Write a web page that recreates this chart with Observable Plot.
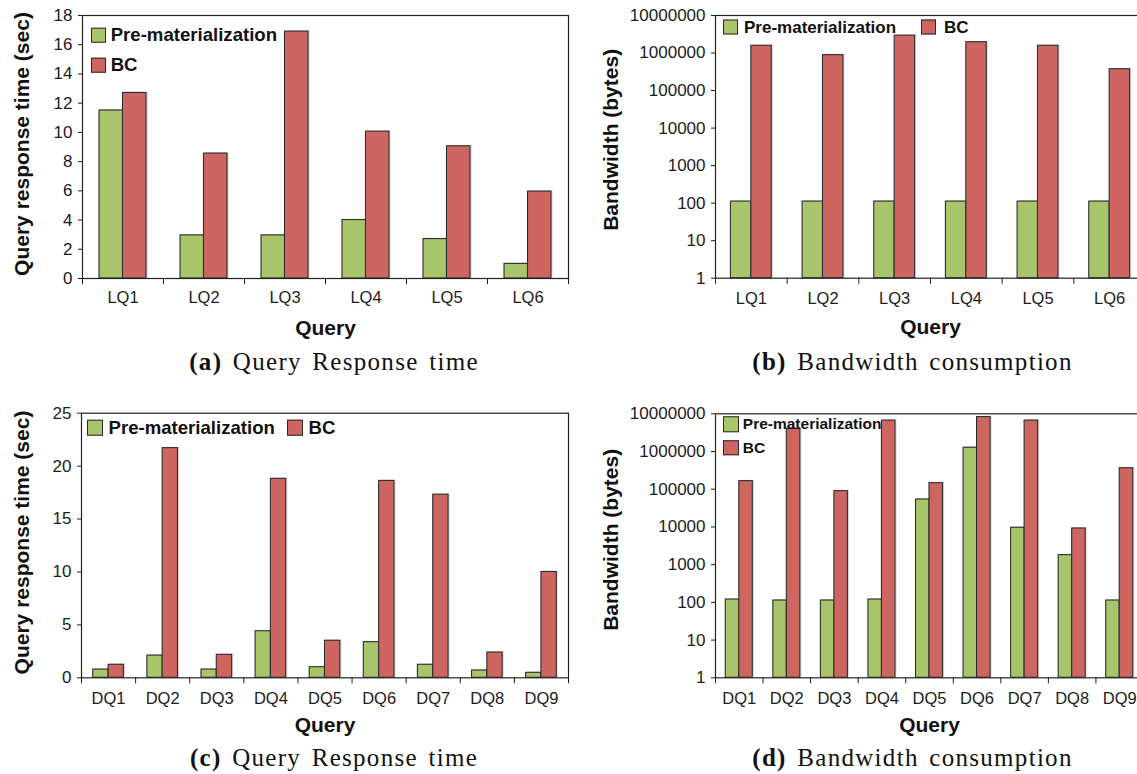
<!DOCTYPE html>
<html>
<head>
<meta charset="utf-8">
<script src="https://cdn.jsdelivr.net/npm/d3@7"></script>
<script src="https://cdn.jsdelivr.net/npm/@observablehq/plot@0.6"></script>
<style>
  html, body { margin: 0; padding: 0; background: #fff; overflow: hidden; }
  #fig { position: relative; width: 1137px; height: 774px; overflow: hidden; background: #fff;
         font-family: "Liberation Sans", Arial, Helvetica, sans-serif; }
  .panel { position: absolute; }
  .legend-item { position: absolute; display: flex; align-items: center; font-weight: bold;
                 color: #111; white-space: nowrap; line-height: 1; transform: translateY(-50%); }
  .swatch { box-sizing: border-box; border: 1.5px solid #2a2a2a; }
  .caption { position: absolute; font-family: "Liberation Serif", "Times New Roman", serif;
             font-size: 25px; line-height: 1; color: #111; transform: translateX(-50%);
             white-space: nowrap; letter-spacing: 1.3px; word-spacing: 3px; }
</style>
</head>
<body>
<div id="fig"></div>
<script>
// Series shown in every panel
const series = ["Pre-materialization", "BC"];
const seriesColors = ["#a9c56b", "#cd6561"];

// Local queries
const lqQueries = ["LQ1", "LQ2", "LQ3", "LQ4", "LQ5", "LQ6"];
const lqTimePre = [11.5, 2.95, 2.95, 4.0, 2.7, 1.0];
const lqTimeBC = [12.7, 8.55, 16.9, 10.05, 9.05, 5.95];
const lqBwPre = [110, 110, 110, 110, 110, 110];
const lqBwBC = [1560000, 880000, 2900000, 1940000, 1560000, 370000];

// Distributed queries
const dqQueries = ["DQ1", "DQ2", "DQ3", "DQ4", "DQ5", "DQ6", "DQ7", "DQ8", "DQ9"];
const dqTimePre = [0.78, 2.1, 0.78, 4.4, 1.0, 3.37, 1.23, 0.69, 0.47];
const dqTimeBC = [1.23, 21.7, 2.17, 18.8, 3.5, 18.6, 17.3, 2.39, 10.0];
const dqBwPre = [119, 112, 112, 119, 53500, 1260000, 9500, 1790, 112];
const dqBwBC = [164000, 4000000, 89000, 6600000, 145000, 8200000, 6600000, 9100, 360000];

// Axis ticks
const timeTicksLQ = [0, 2, 4, 6, 8, 10, 12, 14, 16, 18];
const timeTicksDQ = [0, 5, 10, 15, 20, 25];
const bwTicks = [1, 10, 100, 1000, 10000, 100000, 1000000, 10000000];

const timeLabel = "Query response time (sec)";
const bwLabel = "Bandwidth (bytes)";
const xLabel = "Query";

const fig = document.getElementById("fig");

function groupedBars(cfg) {
  const n = cfg.queries.length;
  const rows = [];
  cfg.queries.forEach((q, i) => {
    rows.push({i, side: -1, series: series[0], value: cfg.pre[i]});
    rows.push({i, side: 1, series: series[1], value: cfg.bc[i]});
  });
  const base = cfg.log ? 1 : 0;
  const w = cfg.barFrac;
  const barX1 = d => d.i + 0.5 + (d.side < 0 ? -w : 0);
  const barX2 = d => d.i + 0.5 + (d.side < 0 ? 0 : w);
  return Plot.plot({
    width: cfg.width,
    height: cfg.height,
    marginTop: cfg.marginTop,
    marginRight: 2,
    marginBottom: cfg.marginBottom,
    marginLeft: cfg.marginLeft,
    style: {fontFamily: '"Liberation Sans", Arial, sans-serif', fontSize: "17px", color: "#1c1c1c",
            background: "transparent", overflow: "visible"},
    x: {domain: [0, n]},
    y: cfg.log ? {type: "log", domain: [1, 10000000]} : {type: "linear", domain: cfg.yDomain},
    color: {domain: series, range: seriesColors},
    marks: [
      // soft drop shadow behind each bar
      Plot.rect(rows, {x1: barX1, x2: barX2, y1: base, y2: "value", fill: "#000", fillOpacity: 0.16,
                       dx: 1.6, dy: -0.8}),
      Plot.rect(rows, {
        x1: barX1,
        x2: barX2,
        y1: base,
        y2: "value",
        fill: "series",
        stroke: "#2e2e2e",
        strokeWidth: 1.1
      }),
      Plot.axisY({ticks: cfg.yTicks, tickFormat: d3.format("d"), tickSize: 4, tickPadding: 6,
                  label: null, fontSize: 17}),
      Plot.axisX({ticks: d3.range(n + 1), tickFormat: () => "", tickSize: 6, label: null}),
      Plot.axisX({ticks: d3.range(n).map(i => i + 0.5), tickFormat: t => cfg.queries[Math.floor(t)],
                  tickSize: 0, tickPadding: cfg.xPad, label: null, fontSize: 16.5}),
      Plot.frame({stroke: "#222", strokeWidth: 1.2}),
      Plot.text([cfg.ylabel], {frameAnchor: "left", rotate: -90, dx: cfg.yLabelDx, dy: cfg.yLabelDy,
                               textAnchor: "middle", lineAnchor: "middle",
                               fontSize: 21, fontWeight: "bold", fill: "#111"}),
      Plot.text([xLabel], {frameAnchor: "bottom", dy: cfg.xLabelDy, textAnchor: "middle", lineAnchor: "middle",
                           fontSize: 21, fontWeight: "bold", fill: "#111"})
    ]
  });
}

function place(el, left, top) {
  el.classList.add("panel");
  el.style.left = left + "px";
  el.style.top = top + "px";
  fig.appendChild(el);
}

// (a) local query response time
place(groupedBars({
  queries: lqQueries, pre: lqTimePre, bc: lqTimeBC, log: false, yDomain: [0, 18], yTicks: timeTicksLQ,
  barFrac: 0.29, ylabel: timeLabel, width: 570, height: 338, marginTop: 15, marginBottom: 60, marginLeft: 82,
  xPad: 13, yLabelDx: -60, yLabelDy: -3, xLabelDy: 50
}), 0, 0);

// (b) local query bandwidth
place(groupedBars({
  queries: lqQueries, pre: lqBwPre, bc: lqBwBC, log: true, yTicks: bwTicks,
  barFrac: 0.285, ylabel: bwLabel, width: 577, height: 338, marginTop: 15, marginBottom: 60.3, marginLeft: 145,
  xPad: 13.6, yLabelDx: -104, yLabelDy: -7, xLabelDy: 48.6
}), 570, 0);

// (c) distributed query response time
place(groupedBars({
  queries: dqQueries, pre: dqTimePre, bc: dqTimeBC, log: false, yDomain: [0, 25], yTicks: timeTicksDQ,
  barFrac: 0.283, ylabel: timeLabel, width: 570, height: 342, marginTop: 17.7, marginBottom: 59.7, marginLeft: 81,
  xPad: 14, yLabelDx: -59, yLabelDy: -3, xLabelDy: 47.7
}), 0, 395);

// (d) distributed query bandwidth
place(groupedBars({
  queries: dqQueries, pre: dqBwPre, bc: dqBwBC, log: true, yTicks: bwTicks,
  barFrac: 0.284, ylabel: bwLabel, width: 575, height: 342, marginTop: 18.3, marginBottom: 59.7, marginLeft: 145,
  xPad: 14, yLabelDx: -104, yLabelDy: -6, xLabelDy: 47.7
}), 570, 395);

// Legends
function legendItem(label, color, left, centerY, size, fontSize, gap) {
  const item = document.createElement("div");
  item.className = "legend-item";
  item.style.left = left + "px";
  item.style.top = centerY + "px";
  item.style.fontSize = fontSize + "px";
  const sw = document.createElement("span");
  sw.className = "swatch";
  sw.style.width = size + "px";
  sw.style.height = size + "px";
  sw.style.background = color;
  sw.style.marginRight = gap + "px";
  const tx = document.createElement("span");
  tx.textContent = label;
  item.appendChild(sw);
  item.appendChild(tx);
  fig.appendChild(item);
}
legendItem(series[0], seriesColors[0], 90.7, 35, 15, 18.6, 5);
legendItem(series[1], seriesColors[1], 90.7, 65.3, 15, 18.6, 5);
legendItem(series[0], seriesColors[0], 723, 26.7, 15, 17, 6);
legendItem(series[1], seriesColors[1], 921, 26.7, 15, 17, 8);
legendItem(series[0], seriesColors[0], 87, 427.5, 15.5, 18.6, 6);
legendItem(series[1], seriesColors[1], 287, 427.5, 15.5, 18.6, 6);
legendItem(series[0], seriesColors[0], 723.3, 424, 15.5, 15.5, 4);
legendItem(series[1], seriesColors[1], 723.3, 447.5, 15.5, 15.5, 4);

// Sub-figure captions
function caption(tag, text, centerX, top) {
  const c = document.createElement("div");
  c.className = "caption";
  c.style.left = centerX + "px";
  c.style.top = top + "px";
  const b = document.createElement("b");
  b.textContent = tag;
  c.appendChild(b);
  c.appendChild(document.createTextNode(" " + text));
  fig.appendChild(c);
}
caption("(a)", "Query Response time", 334, 349);
caption("(b)", "Bandwidth consumption", 912.5, 349);
caption("(c)", "Query Response time", 334, 745);
caption("(d)", "Bandwidth consumption", 912.5, 745);
</script>
</body>
</html>
